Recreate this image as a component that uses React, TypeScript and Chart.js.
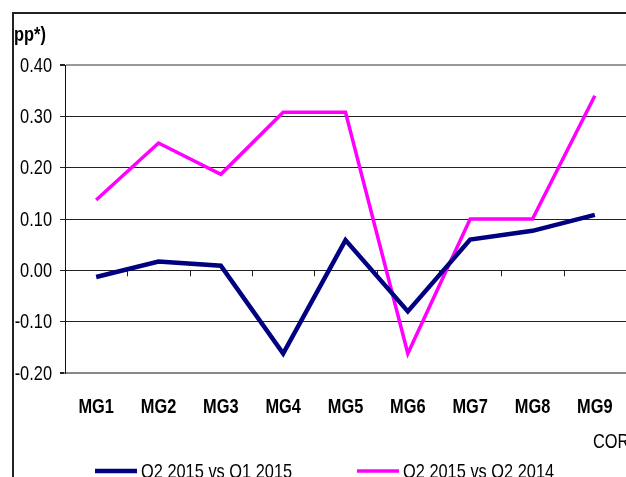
import React, { useEffect, useRef } from "react";
import { Chart, registerables } from "chart.js";

Chart.register(...registerables);

const categories = ["MG1", "MG2", "MG3", "MG4", "MG5", "MG6", "MG7", "MG8", "MG9"];
const seriesQ1Label = "Q2 2015 vs Q1 2015";
const seriesQ1 = [-0.013, 0.017, 0.009, -0.162, 0.059, -0.08, 0.06, 0.077, 0.108];
const seriesQ2Label = "Q2 2015 vs Q2 2014";
const seriesQ2 = [0.137, 0.248, 0.187, 0.308, 0.308, -0.162, 0.1, 0.1, 0.34];
const yTicks = [-0.2, -0.1, 0, 0.1, 0.2, 0.3, 0.4];
const yTitle = "pp*)";
const xNote = "COR";

const FONT = "'Liberation Sans', Arial, sans-serif";
const SQUEEZE = 0.78;

function narrowText(ctx: any, text: string, x: number, y: number, align: string, font: string, baseline = "middle") {
  ctx.save();
  ctx.translate(x, y);
  ctx.scale(SQUEEZE, 1);
  ctx.font = font;
  ctx.textAlign = align;
  ctx.textBaseline = baseline;
  ctx.fillStyle = "#000000";
  ctx.fillText(text, 0, 0);
  ctx.restore();
}

const decorPlugin = {
  id: "decor",
  beforeDraw(chart: any) {
    const ctx = chart.ctx;
    ctx.save();
    ctx.fillStyle = "#ffffff";
    ctx.fillRect(0, 0, chart.width, chart.height);
    ctx.strokeStyle = "#222222";
    ctx.lineWidth = 2;
    ctx.strokeRect(13, 13, 800, 800);
    ctx.restore();
  },
  beforeDatasetsDraw(chart: any) {
    const ctx = chart.ctx;
    const x = chart.scales.x;
    const y = chart.scales.y;
    const y0 = y.getPixelForValue(0);
    ctx.save();
    ctx.strokeStyle = "#222222";
    ctx.lineWidth = 1;
    ctx.beginPath();
    for (let i = 0; i < categories.length - 1; i++) {
      const px = Math.round((x.getPixelForValue(i) + x.getPixelForValue(i + 1)) / 2) + 0.5;
      ctx.moveTo(px, y0);
      ctx.lineTo(px, y0 + 6);
    }
    ctx.stroke();
    ctx.restore();
  },
  afterDraw(chart: any) {
    const ctx = chart.ctx;
    const xs = chart.scales.x;
    const ys = chart.scales.y;
    // y tick labels
    ys.ticks.forEach((t: any, i: number) => {
      narrowText(ctx, Number(t.value).toFixed(2), 52, ys.getPixelForTick(i) + 1, "right", `21px ${FONT}`);
    });
    // x tick labels
    categories.forEach((c, i) => {
      narrowText(ctx, c, xs.getPixelForValue(i), 407, "center", `bold 21px ${FONT}`);
    });
    narrowText(ctx, yTitle, 14, 41, "left", `bold 21px ${FONT}`, "alphabetic");
    narrowText(ctx, xNote, 593, 442, "left", `21px ${FONT}`);
    // legend
    const items = [
      { x: 95, ds: chart.data.datasets[0] },
      { x: 357, ds: chart.data.datasets[1] },
    ];
    items.forEach((it) => {
      ctx.save();
      ctx.strokeStyle = it.ds.borderColor;
      ctx.lineWidth = it.ds.borderWidth;
      ctx.beginPath();
      ctx.moveTo(it.x, 471);
      ctx.lineTo(it.x + 42, 471);
      ctx.stroke();
      ctx.restore();
      narrowText(ctx, it.ds.label, it.x + 46, 472, "left", `21px ${FONT}`);
    });
  },
};

export default function App() {
  const ref = useRef<HTMLCanvasElement>(null);
  useEffect(() => {
    document.body.style.margin = "0";
    const chart = new Chart(ref.current!, {
      type: "line",
      data: {
        labels: categories,
        datasets: [
          {
            label: seriesQ1Label,
            data: seriesQ1,
            borderColor: "#000080",
            backgroundColor: "#000080",
            borderWidth: 4.5,
            pointRadius: 0,
            tension: 0,
          },
          {
            label: seriesQ2Label,
            data: seriesQ2,
            borderColor: "#FF00FF",
            backgroundColor: "#FF00FF",
            borderWidth: 3.5,
            pointRadius: 0,
            tension: 0,
          },
        ],
      },
      options: {
        animation: false,
        responsive: false,
        maintainAspectRatio: false,
        layout: { padding: { top: 65, left: 0, right: 0, bottom: 0 } },
        plugins: {
          legend: { display: false },
          tooltip: { enabled: false },
        },
        scales: {
          x: {
            offset: true,
            grid: { display: true, drawOnChartArea: false, drawTicks: true, tickLength: 20, tickColor: "rgba(0,0,0,0)" },
            border: { display: true, color: "#888888", width: 2 },
            ticks: {
              padding: 0,
              color: "rgba(0,0,0,0)",
              font: { family: FONT, size: 12 },
              maxRotation: 0,
              autoSkip: false,
            },
            afterFit: (s: any) => {
              s.height = 104;
            },
          },
          y: {
            min: -0.2,
            max: 0.4,
            afterBuildTicks: (s: any) => {
              s.ticks = yTicks.map((v) => ({ value: v }));
            },
            grid: {
              tickLength: 5,
              color: (c: any) => {
                const v = c.tick ? c.tick.value : 0;
                if (Math.abs(v - 0.4) < 1e-6) return "#999999";
                if (Math.abs(v + 0.2) < 1e-6) return "#888888";
                return "#222222";
              },
              tickColor: "#222222",
              lineWidth: (c: any) => {
                const v = c.tick ? c.tick.value : 0;
                if (Math.abs(v - 0.4) < 1e-6 || Math.abs(v + 0.2) < 1e-6) return 2;
                return 1;
              },
            },
            border: { display: true, color: "#111111", width: 1 },
            ticks: {
              padding: 8,
              color: "rgba(0,0,0,0)",
              font: { family: FONT, size: 12 },
              callback: (v: any) => Number(v).toFixed(2),
            },
            afterFit: (s: any) => {
              s.width = 65;
            },
          },
        },
      },
      plugins: [decorPlugin],
    });
    return () => chart.destroy();
  }, []);
  return <canvas ref={ref} width={626} height={477} style={{ display: "block" }} />;
}
